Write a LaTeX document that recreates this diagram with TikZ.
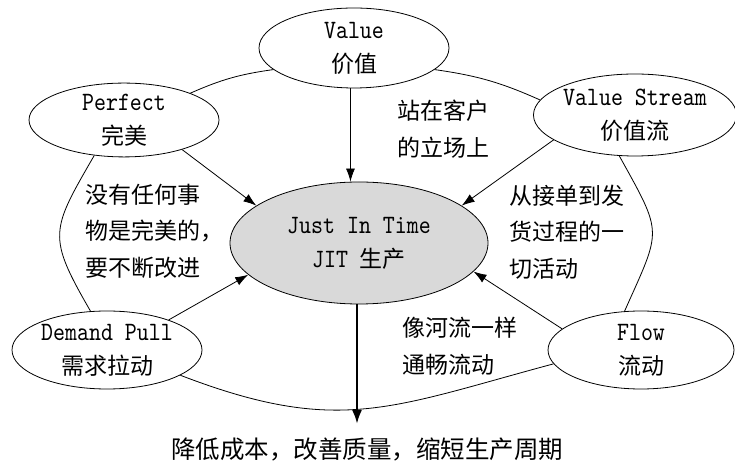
\documentclass[tikz,border=0pt]{standalone}
\usepackage{fontspec}
\setmainfont{Noto Sans CJK SC}
\newfontfamily\latmono{lmmono10-regular.otf}[FakeStretch=0.86]
\usetikzlibrary{shapes.geometric,arrows.meta}
\newcommand\fsz{\fontsize{23}{34}\selectfont}
\newcommand\lbl{\fontsize{23}{36.5}\selectfont}
\newcommand\lt[1]{{\latmono\fontsize{26.5}{34}\selectfont #1}}
\begin{document}
\begin{tikzpicture}[x=1pt,y=1pt,
  oval/.style={draw, ellipse, line width=0.8pt, inner sep=0pt, align=center, font=\fsz},
  note/.style={inner sep=0pt, align=left, font=\lbl, anchor=west},
  arr/.style={line width=0.8pt, -{Latex[length=13pt,width=9pt]}},
  thickarr/.style={line width=2.4pt, -{Latex[length=14pt,width=10pt]}},
  ring/.style={line width=0.8pt}]
\useasboundingbox (0,0) rectangle (735,465);
\node[oval, minimum width=190, minimum height=80] (val) at (354,417) {\lt{Value}\\价值};
\node[oval, minimum width=190, minimum height=72] (per) at (124,345) {\lt{Perfect}\\完美};
\node[oval, minimum width=196, minimum height=82] (vs) at (635,350) {\lt{Value Stream}\\价值流};
\node[oval, fill=black!15, minimum width=258, minimum height=122] (jit) at (359,222) {\lt{Just In Time}\\\lt{JIT }生产};
\node[oval, minimum width=190, minimum height=78] (dp) at (107,115) {\lt{Demand Pull}\\需求拉动};
\node[oval, minimum width=186, minimum height=78] (flow) at (641,115) {\lt{Flow}\\流动};
\node[note] (l1) at (397,336) {站在客户\\的立场上};
\node[note] (l2) at (85,234) {没有任何事\\物是完美的，\\要不断改进};
\node[note] (l3) at (509,233) {从接单到发\\货过程的一\\切活动};
\node[note] (l4) at (402,119) {像河流一样\\通畅流动};
\node[inner sep=0pt, font=\fontsize{24.5}{30}\selectfont] (res) at (367,16) {降低成本，改善质量，缩短生产周期};
\coordinate (oend) at (357,41);
% ring
\draw[ring] (val.195) to[bend right=8] (per.22);
\draw[ring] (val.-15) to[bend left=8] (vs.171);
\draw[ring] (per.230) to[out=240, in=120, looseness=1.43] (dp.113);
\draw[ring] (vs.249) to[out=-61, in=66, looseness=1.5] (flow.113);
\draw[ring] (dp.-19) to[out=-21, in=195, looseness=1.16] (flow.189);
% arrows
\draw[arr] (val.265) -- (val.265 |- jit.north);
\draw[arr] (per.-27) -- (jit.160);
\draw[arr] (vs.197) -- (jit.20);
\draw[arr] (dp.26) -- (jit.196);
\draw[arr] (flow.165) -- (jit.-14);
\draw[thickarr] (oend |- jit.south) -- (oend);
\end{tikzpicture}
\end{document}
